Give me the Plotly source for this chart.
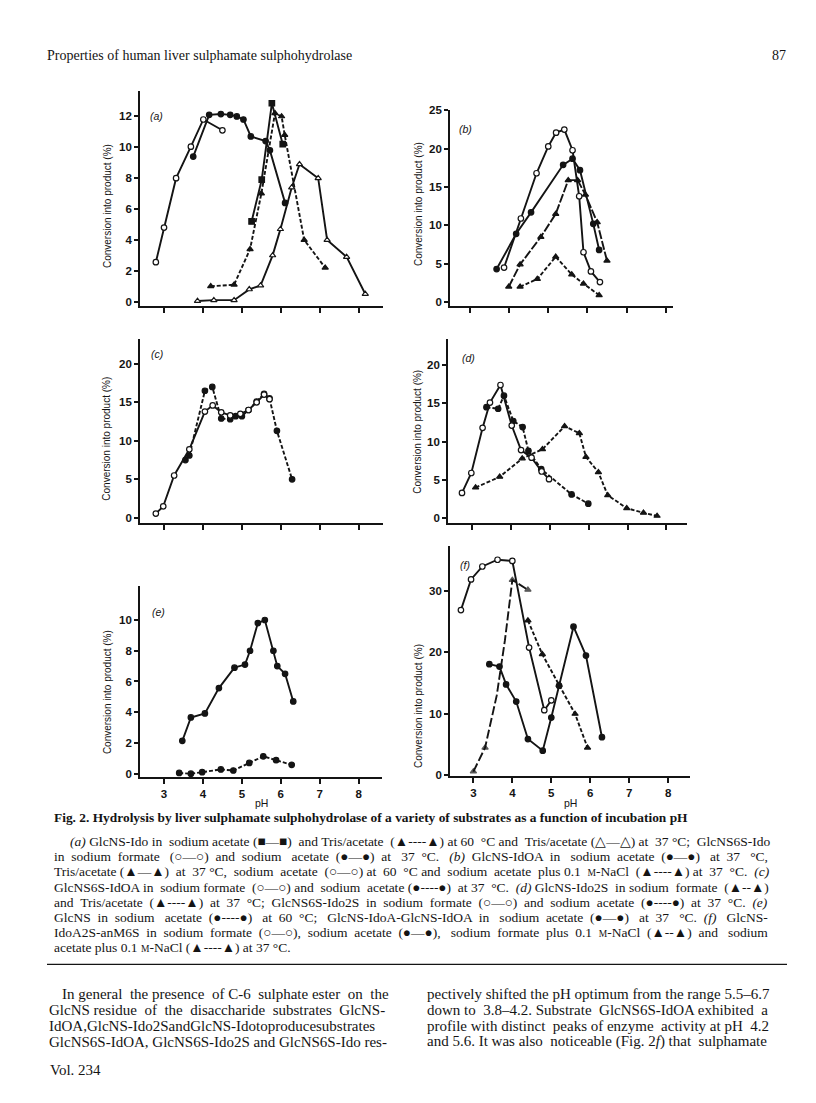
import re
import plotly.graph_objects as go

# ---------------- data (pH, conversion %) ----------------
# (a)
a_sq_ph = [5.25, 5.51, 5.77, 6.05]
a_sq_val = [5.2, 7.9, 12.85, 10.2]
a_tris60_ph = [4.2, 4.8, 5.21, 5.5, 5.85, 6.02, 6.1, 6.6, 7.14]
a_tris60_val = [1.0, 1.1, 3.4, 7.0, 12.2, 12.0, 10.8, 4.0, 2.2]
a_tris37_ph = [3.86, 4.28, 4.8, 5.19, 5.48, 5.79, 5.99, 6.28, 6.48, 6.96, 7.19, 7.69, 8.17]
a_tris37_val = [0.05, 0.1, 0.1, 0.8, 1.05, 3.0, 4.7, 7.4, 8.9, 8.0, 4.0, 2.9, 0.5]
a_formate_ph = [2.79, 3.0, 3.31, 3.69, 4.01, 4.50]
a_formate_val = [2.56, 4.8, 8.0, 10.04, 11.8, 11.1]
a_acetate_ph = [3.75, 4.16, 4.46, 4.70, 4.87, 5.04, 5.23, 5.61, 5.72, 6.11]
a_acetate_val = [9.4, 12.1, 12.15, 12.1, 12.0, 11.8, 10.7, 10.4, 9.8, 6.4]
# (b)
b_acetate37_ph = [3.68, 4.18, 4.56, 5.38, 5.62, 5.81, 6.15, 6.30]
b_acetate37_val = [4.3, 8.9, 11.7, 17.9, 18.7, 17.2, 10.2, 6.8]
b_tris37_ph = [3.99, 4.28, 4.81, 5.19, 5.51, 5.75, 5.95, 6.25, 6.50]
b_tris37_val = [2.0, 4.9, 8.5, 11.5, 15.9, 15.9, 14.0, 10.4, 5.4]
b_acetate60_ph = [3.87, 4.30, 4.70, 5.00, 5.20, 5.41, 5.62, 5.79, 5.90, 6.09, 6.32]
b_acetate60_val = [4.5, 10.9, 16.8, 20.3, 22.1, 22.5, 19.8, 13.8, 6.5, 4.0, 2.6]
b_nacl_ph = [4.28, 4.72, 5.19, 5.60, 5.90, 6.30]
b_nacl_val = [2.0, 3.0, 5.9, 3.6, 2.4, 0.9]
# (c)
c_formate_ph = [2.79, 2.98, 3.26, 3.65, 4.05, 4.25, 4.47, 4.70, 4.96, 5.17, 5.38, 5.57, 5.71]
c_formate_val = [0.56, 1.5, 5.5, 8.9, 13.8, 14.6, 13.7, 13.3, 13.5, 14.0, 15.0, 16.0, 15.4]
c_acetate_ph = [3.55, 3.65, 4.05, 4.24, 4.47, 4.70, 4.84, 5.00, 5.17, 5.38, 5.57, 5.71, 5.90, 6.29]
c_acetate_val = [7.5, 8.1, 16.5, 17.0, 12.9, 12.8, 13.2, 13.2, 14.0, 15.1, 16.1, 15.5, 11.3, 5.0]
# (d)
d_formate6s_ph = [2.74, 2.98, 3.27, 3.46, 3.73, 4.02, 4.26, 4.53, 4.79, 4.98]
d_formate6s_val = [3.3, 5.9, 11.8, 15.1, 17.4, 12.1, 8.9, 7.9, 6.1, 5.1]
d_acetate6s_ph = [3.37, 3.67, 3.82, 4.06, 4.30, 4.45, 4.78, 5.56, 5.99]
d_acetate6s_val = [14.5, 14.3, 16.0, 12.7, 11.9, 8.8, 6.4, 3.1, 1.9]
d_tris_ph = [3.09, 3.71, 4.29, 4.81, 5.38, 5.76, 5.93, 6.25, 6.49, 6.98, 7.41, 7.76]
d_tris_val = [4.0, 5.4, 7.8, 9.0, 12.0, 11.1, 8.0, 6.0, 3.0, 1.3, 0.7, 0.3]
# (e)
e_glcns_ph = [3.39, 3.69, 3.98, 4.46, 4.78, 5.19, 5.55, 5.88, 6.28]
e_glcns_val = [0.05, 0.0, 0.1, 0.28, 0.21, 0.7, 1.13, 0.88, 0.58]
e_tetra_ph = [3.47, 3.69, 4.05, 4.41, 4.81, 5.08, 5.21, 5.41, 5.59, 5.81, 5.91, 6.11, 6.32]
e_tetra_val = [2.14, 3.66, 3.92, 5.57, 6.9, 7.1, 8.0, 9.8, 10.0, 8.0, 7.0, 6.5, 4.7]
# (f)
f_formate_ph = [2.68, 2.94, 3.23, 3.62, 4.00, 4.43, 4.82, 5.00]
f_formate_val = [26.9, 31.9, 34.0, 35.1, 34.9, 20.8, 10.6, 12.2]
f_acetate_ph = [3.41, 3.67, 3.84, 4.10, 4.40, 4.78, 5.00, 5.20, 5.57, 5.89, 6.30]
f_acetate_val = [18.1, 17.7, 14.8, 12.0, 5.9, 4.0, 9.4, 14.6, 24.2, 19.5, 6.2]
f_formnacl_ph = [3.0, 3.3, 3.6, 3.81, 4.0, 4.4]
f_formnacl_val = [0.6, 4.5, 13.0, 22.0, 31.8, 30.2]
f_formnacl_mark = [1, 1, 0, 0, 1, 1]
f_acenacl_ph = [4.4, 4.77, 5.2, 5.61, 5.93]
f_acenacl_val = [25.2, 19.7, 14.7, 10.0, 4.5]

ph_ticks = [3, 4, 5, 6, 7, 8]

# ---------------- page geometry ----------------
OFF = 8                      # default <body> margin of the page
FW, FH = 816 - OFF, 1103 - OFF


def px(x):
    return (x - OFF) / FW


def py(y):
    return 1 - (y - OFF) / FH


panels = {
    "a": dict(xpix=(140, 383), ypix=(86, 303), xr=[2.383, 8.625], yr=[-0.28, 13.63], dy=2, ymax=12, lab=(148, 111)),
    "b": dict(xpix=(450, 673), ypix=(105, 303), xr=[2.489, 8.187], yr=[-0.52, 25.05], dy=5, ymax=25, lab=(457, 124)),
    "c": dict(xpix=(140, 383), ypix=(336, 522), xr=[2.383, 8.625], yr=[-0.64, 23.25], dy=5, ymax=20, lab=(149, 351)),
    "d": dict(xpix=(448, 687), ypix=(336, 522), xr=[2.38, 8.53], yr=[-0.61, 23.45], dy=5, ymax=20, lab=(460, 355)),
    "e": dict(xpix=(140, 382), ypix=(586, 779), xr=[2.383, 8.6], yr=[-0.23, 12.2], dy=2, ymax=10, lab=(150, 612)),
    "f": dict(xpix=(450, 690), ypix=(545, 778), xr=[2.40, 8.56], yr=[-0.16, 37.4], dy=10, ymax=30, lab=(458, 565)),
}
ytitle_pos = {"a": (107, 202), "b": (418, 200), "c": (107, 437), "d": (418, 430), "e": (107, 693), "f": (419, 707)}

fig = go.Figure()
layout = dict(width=FW, height=FH, margin=dict(l=0, r=0, t=0, b=0),
              paper_bgcolor="white", plot_bgcolor="white", showlegend=False)
annotations = []
INK = "#141414"
sans = "Liberation Sans, Arial, Helvetica, sans-serif"
serif = "Liberation Serif, Times New Roman, serif"
tickfont = dict(family=sans, size=11.5, color=INK, weight="bold")


def note(x, y, text, size, family=serif, xanchor="left", angle=0, color=INK):
    annotations.append(dict(x=px(x), y=py(y), xref="paper", yref="paper", text=text, showarrow=False,
                            xanchor=xanchor, yanchor="middle", textangle=angle,
                            font=dict(family=family, size=size, color=color)))


for i, (k, p) in enumerate(panels.items()):
    n = "" if i == 0 else str(i + 1)
    bottom = k in ("e", "f")
    layout["xaxis" + n] = dict(
        domain=[px(p["xpix"][0]), px(p["xpix"][1])], range=p["xr"], anchor="y" + n,
        showline=True, linecolor=INK, linewidth=1.7, showgrid=False, zeroline=False,
        ticks="outside", ticklen=5, tickwidth=1.5, tickcolor=INK,
        tickvals=ph_ticks, showticklabels=bottom, tickfont=tickfont,
    )
    layout["yaxis" + n] = dict(
        domain=[py(p["ypix"][1]), py(p["ypix"][0])], range=p["yr"], anchor="x" + n,
        showline=True, linecolor=INK, linewidth=1.7, showgrid=False, zeroline=False,
        ticks="outside", ticklen=4, tickwidth=1.5, tickcolor=INK,
        tickvals=list(range(0, p["ymax"] + 1, p["dy"])), tickfont=tickfont,
    )
    note(p["lab"][0], p["lab"][1], "<i>(%s)</i>" % k, 10.5, family=sans)
    tx, ty = ytitle_pos[k]
    note(tx, ty, "Conversion into product (%)", 10, family=sans, xanchor="center", angle=-90)


def add(ax, xs, ys, symbol, filled, dash="solid", size=5.5, marks=None):
    n = "" if ax == 1 else str(ax)
    msize = size if marks is None else [size if m else 0 for m in marks]
    fig.add_trace(go.Scatter(
        x=xs, y=ys, xaxis="x" + n, yaxis="y" + n, mode="lines+markers",
        line=dict(color=INK, width=1.9, dash=dash),
        marker=dict(symbol=symbol, size=msize, color=INK if filled else "white",
                    line=dict(color=INK, width=1.2)),
        hoverinfo="skip"))


# (a)
add(1, a_tris37_ph, a_tris37_val, "triangle-up", False)
add(1, a_tris60_ph, a_tris60_val, "triangle-up", True, dash="4px,2px")
add(1, a_sq_ph, a_sq_val, "square", True)
add(1, a_acetate_ph, a_acetate_val, "circle", True)
add(1, a_formate_ph, a_formate_val, "circle", False)
# (b)
add(2, b_nacl_ph, b_nacl_val, "triangle-up", True, dash="4px,2px")
add(2, b_tris37_ph, b_tris37_val, "triangle-up", True, dash="9px,2px")
add(2, b_acetate37_ph, b_acetate37_val, "circle", True)
add(2, b_acetate60_ph, b_acetate60_val, "circle", False)
# (c)
add(3, c_acetate_ph, c_acetate_val, "circle", True, dash="4px,2px")
add(3, c_formate_ph, c_formate_val, "circle", False)
# (d)
add(4, d_tris_ph, d_tris_val, "triangle-up", True, dash="4px,2px")
add(4, d_acetate6s_ph, d_acetate6s_val, "circle", True, dash="4px,2px")
add(4, d_formate6s_ph, d_formate6s_val, "circle", False)
# (e)
add(5, e_glcns_ph, e_glcns_val, "circle", True, dash="4px,2px")
add(5, e_tetra_ph, e_tetra_val, "circle", True)
# (f)
add(6, f_formnacl_ph, f_formnacl_val, "triangle-up", True, dash="9px,3px", marks=f_formnacl_mark)
add(6, f_acenacl_ph, f_acenacl_val, "triangle-up", True, dash="4px,2px")
add(6, f_acetate_ph, f_acetate_val, "circle", True)
add(6, f_formate_ph, f_formate_val, "circle", False)

note(261, 805, "pH", 10.5, family=sans, xanchor="center")
note(570, 805, "pH", 10.5, family=sans, xanchor="center")

# ---------------- page text ----------------
TW = {' ': 250, 'a': 444, 'b': 500, 'c': 444, 'd': 500, 'e': 444, 'f': 333, 'g': 500, 'h': 500, 'i': 278,
      'j': 278, 'k': 500, 'l': 278, 'm': 778, 'n': 500, 'o': 500, 'p': 500, 'q': 500, 'r': 333, 's': 389,
      't': 278, 'u': 500, 'v': 500, 'w': 722, 'x': 500, 'y': 500, 'z': 444, 'A': 722, 'B': 667, 'C': 667,
      'D': 722, 'E': 611, 'F': 556, 'G': 722, 'H': 722, 'I': 333, 'J': 389, 'K': 722, 'L': 611, 'M': 889,
      'N': 722, 'O': 722, 'P': 556, 'Q': 722, 'R': 667, 'S': 556, 'T': 611, 'U': 722, 'V': 722, 'W': 944,
      'X': 722, 'Y': 722, 'Z': 611, '.': 250, ',': 250, '-': 333, '(': 333, ')': 333, '/': 278, ';': 278,
      ':': 278, '°': 400, '–': 500, '—': 1000, '■': 604, '▲': 990, '●': 604, '○': 604, '△': 770, '§': 615}


def justify(line, left, right, size):
    plain = re.sub(r"<[^>]+>", "", line)
    nat = sum(TW.get(ch, 500) for ch in plain) / 1000 * size
    parts = line.split(" ")
    gaps = len(parts) - 1
    k = max(0, round((right - left - nat) / (0.25 * size)))
    out = parts[0]
    for g in range(gaps):
        add_n = (g + 1) * k // gaps - g * k // gaps
        out += " " + "\u00a0" * add_n + parts[g + 1]
    return out


M = '<span style="font-size:9.5px">M</span>'

note(45, 50, "Properties of human liver sulphamate sulphohydrolase", 14)
note(788, 50, "87", 14, xanchor="right")
note(52, 820, "<b>Fig. 2. Hydrolysis by liver sulphamate sulphohydrolase of a variety of substrates as a function of incubation pH</b>", 13.4)

CAP_L, CAP_R, CAP_SIZE = 52, 766, 13.5
caption = [
    "<i>(a)</i> GlcNS-Ido in sodium acetate (■—■) and Tris/acetate (▲----▲) at 60 °C and Tris/acetate (△—△) at 37 °C; GlcNS6S-Ido",
    "in sodium formate (○—○) and sodium acetate (●—●) at 37 °C. <i>(b)</i> GlcNS-IdOA in sodium acetate (●—●) at 37 °C,",
    "Tris/acetate (▲—▲) at 37 °C, sodium acetate (○—○) at 60 °C and sodium acetate plus 0.1 §-NaCl (▲----▲) at 37 °C. <i>(c)</i>",
    "GlcNS6S-IdOA in sodium formate (○—○) and sodium acetate (●----●) at 37 °C. <i>(d)</i> GlcNS-Ido2S in sodium formate (▲--▲)",
    "and Tris/acetate (▲----▲) at 37 °C; GlcNS6S-Ido2S in sodium formate (○—○) and sodium acetate (●----●) at 37 °C. <i>(e)</i>",
    "GlcNS in sodium acetate (●----●) at 60 °C; GlcNS-IdoA-GlcNS-IdOA in sodium acetate (●—●) at 37 °C. <i>(f)</i> GlcNS-",
    "IdoA2S-anM6S in sodium formate (○—○), sodium acetate (●—●), sodium formate plus 0.1 §-NaCl (▲--▲) and sodium",
    "acetate plus 0.1 §-NaCl (▲----▲) at 37 °C.",
]
for j, t in enumerate(caption):
    x0 = CAP_L + (16 if j == 0 else 0)
    if j < len(caption) - 1:
        t = justify(t, x0, CAP_R, CAP_SIZE)
    note(x0, 844 + 15.3 * j, t.replace("§", M), CAP_SIZE)

BODY_SIZE = 15
body_left = [
    "In general the presence of C-6 sulphate ester on the",
    "GlcNS residue of the disaccharide substrates GlcNS-",
    "IdOA,GlcNS-Ido2SandGlcNS-Idotoproducesubstrates",
    "GlcNS6S-IdOA, GlcNS6S-Ido2S and GlcNS6S-Ido res-",
]
body_right = [
    "pectively shifted the pH optimum from the range 5.5–6.7",
    "down to 3.8–4.2. Substrate GlcNS6S-IdOA exhibited a",
    "profile with distinct peaks of enzyme activity at pH 4.2",
    "and 5.6. It was also noticeable (Fig. 2<i>f</i>) that sulphamate",
]
for j, t in enumerate(body_left):
    x0 = 60 if j == 0 else 47
    note(x0, 998 + 16 * j, justify(t, x0, 385, BODY_SIZE), BODY_SIZE)
for j, t in enumerate(body_right):
    note(425, 998 + 16 * j, justify(t, 425, 766, BODY_SIZE), BODY_SIZE)
note(48, 1075, "Vol. 234", BODY_SIZE)

layout["annotations"] = annotations
layout["shapes"] = [dict(type="line", xref="paper", yref="paper", x0=px(47), x1=px(787),
                         y0=py(968), y1=py(968), line=dict(color=INK, width=1.3))]
fig.update_layout(**layout)
fig.write_html("out.html")
